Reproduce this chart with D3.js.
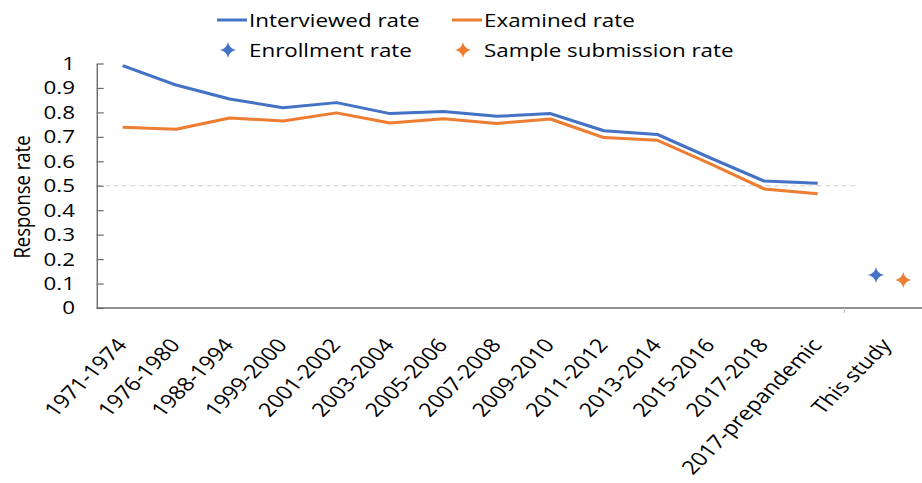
<!DOCTYPE html>
<html>
<head>
<meta charset="utf-8">
<script src="https://cdn.jsdelivr.net/npm/d3@7"></script>
<style>
  body { margin: 0; background: #fff; }
  text { font-family: "Open Sans", sans-serif; }
</style>
</head>
<body>
<div class="chart"></div>
<script>
// Data
var categories = ["1971-1974", "1976-1980", "1988-1994", "1999-2000", "2001-2002", "2003-2004",
  "2005-2006", "2007-2008", "2009-2010", "2011-2012", "2013-2014", "2015-2016", "2017-2018",
  "2017-prepandemic", "This study"];
var interviewed = [0.991, 0.912, 0.855, 0.819, 0.840, 0.795, 0.804, 0.784, 0.795, 0.725, 0.710, 0.613, 0.519, 0.510];
var examined = [0.739, 0.731, 0.777, 0.765, 0.798, 0.757, 0.774, 0.755, 0.773, 0.697, 0.686, 0.589, 0.487, 0.467];
var enrollment = [0.135];
var sampleSubmission = [0.115];
var yTicks = [0, 0.1, 0.2, 0.3, 0.4, 0.5, 0.6, 0.7, 0.8, 0.9, 1];

var svgWidth = 922;
var svgHeight = 483;
// the original picture is stretched sideways, so everything is drawn in a squeezed frame
var sx = 1.21;
var innerWidth = svgWidth / sx;

var blue = "#4472C4";
var orange = "#ED7D31";
var axisColor = "#6b6b6b";
var fontSize = 18.5;

var svg = d3.select(".chart")
  .append("svg")
  .attr("width", svgWidth)
  .attr("height", svgHeight);

var g = svg.append("g")
  .attr("transform", `scale(${sx},1)`);

var axisX = 96.7 / sx;
var x = d3.scaleLinear()
  .domain([0, 13])
  .range([122.7 / sx, 817.7 / sx]);
var y = d3.scaleLinear()
  .domain([0, 1])
  .range([308, 63.5]);

// "This study" sits a bit to the right, between its two markers
var studyIndex = categories.length - 1;
var studyShift = 0.3;
var tickPos = categories.map((c, i) => i === studyIndex ? i + studyShift : i);

// four point star, drawn in the squeezed frame
function star(cx, cy) {
  var rx = 8 / sx, ry = 8, k = 0.16;
  var p = d3.path();
  p.moveTo(cx, cy - ry);
  p.quadraticCurveTo(cx + rx * k, cy - ry * k, cx + rx, cy);
  p.quadraticCurveTo(cx + rx * k, cy + ry * k, cx, cy + ry);
  p.quadraticCurveTo(cx - rx * k, cy + ry * k, cx - rx, cy);
  p.quadraticCurveTo(cx - rx * k, cy - ry * k, cx, cy - ry);
  p.closePath();
  return p.toString();
}

// 0.5 reference line
g.append("line")
  .attr("x1", axisX)
  .attr("x2", x(13.74))
  .attr("y1", y(0.5))
  .attr("y2", y(0.5))
  .attr("stroke", "#cfcfcf")
  .attr("stroke-width", 1)
  .attr("stroke-dasharray", "4,3");

// y axis
var yAxis = g.append("g")
  .attr("transform", `translate(${axisX},0)`)
  .call(d3.axisLeft(y)
    .tickValues(yTicks)
    .tickSizeInner(-7 / sx)
    .tickSizeOuter(0)
    .tickPadding(18)
    .tickFormat(d => String(d)));
yAxis.attr("font-size", fontSize).attr("font-family", "Open Sans, sans-serif");
yAxis.select(".domain").attr("stroke", axisColor).attr("stroke-width", 1.2);
yAxis.selectAll(".tick line").attr("stroke", axisColor).attr("stroke-width", 1.2);
yAxis.selectAll(".tick text").attr("fill", "#000");

// x axis
g.append("line")
  .attr("x1", axisX)
  .attr("x2", innerWidth)
  .attr("y1", y(0))
  .attr("y2", y(0))
  .attr("stroke", axisColor)
  .attr("stroke-width", 1.5);
g.append("line")
  .attr("x1", x(13.5))
  .attr("x2", x(13.5))
  .attr("y1", y(0))
  .attr("y2", y(0) + 5)
  .attr("stroke", "#c8c8c8")
  .attr("stroke-width", 1);

var xAxis = g.append("g")
  .attr("transform", `translate(0,${y(0)})`)
  .call(d3.axisBottom(x)
    .tickValues(tickPos)
    .tickFormat((d, i) => categories[i])
    .tickSize(0));
xAxis.select(".domain").remove();
xAxis.attr("font-size", 19.2).attr("font-family", "Open Sans, sans-serif");
xAxis.selectAll(".tick text")
  .attr("fill", "#000")
  .attr("x", 0)
  .attr("y", 0)
  .attr("dy", "0.7em")
  .attr("text-anchor", "end")
  .attr("transform", `translate(${-8 / sx},29) rotate(-50.5)`);

// lines
var line = d3.line()
  .x((d, i) => x(i))
  .y(d => y(d));

g.append("path")
  .datum(interviewed)
  .attr("d", line)
  .attr("fill", "none")
  .attr("stroke", blue)
  .attr("stroke-width", 3)
  .attr("stroke-linejoin", "round");

g.append("path")
  .datum(examined)
  .attr("d", line)
  .attr("fill", "none")
  .attr("stroke", orange)
  .attr("stroke-width", 3)
  .attr("stroke-linejoin", "round");

// this study markers
g.selectAll(".enroll")
  .data(enrollment)
  .enter()
  .append("path")
  .attr("class", "enroll")
  .attr("d", d => star(x(studyIndex + 0.09), y(d)))
  .attr("fill", blue);

g.selectAll(".sample")
  .data(sampleSubmission)
  .enter()
  .append("path")
  .attr("class", "sample")
  .attr("d", d => star(x(studyIndex + 0.6), y(d)))
  .attr("fill", orange);

// y axis title
g.append("text")
  .attr("transform", `translate(${22 / sx},197) rotate(-90)`)
  .attr("text-anchor", "middle")
  .attr("dy", "0.36em")
  .attr("font-size", fontSize)
  .attr("fill", "#000")
  .text("Response rate");

// legend
var legend = g.append("g");
var legendItems = [
  { label: "Interviewed rate", color: blue, type: "line", x: 217, y: 20 },
  { label: "Examined rate", color: orange, type: "line", x: 452, y: 20 },
  { label: "Enrollment rate", color: blue, type: "star", x: 217, y: 50 },
  { label: "Sample submission rate", color: orange, type: "star", x: 452, y: 50 }
];
legendItems.forEach(function(item) {
  if (item.type === "line") {
    legend.append("line")
      .attr("x1", item.x / sx)
      .attr("x2", (item.x + 30) / sx)
      .attr("y1", item.y)
      .attr("y2", item.y)
      .attr("stroke", item.color)
      .attr("stroke-width", 3);
  } else {
    legend.append("path")
      .attr("d", star((item.x + 11) / sx, item.y))
      .attr("fill", item.color);
  }
  legend.append("text")
    .attr("x", (item.x + 32) / sx)
    .attr("y", item.y)
    .attr("dy", "0.36em")
    .attr("font-size", fontSize)
    .attr("fill", "#000")
    .text(item.label);
});
</script>
</body>
</html>
